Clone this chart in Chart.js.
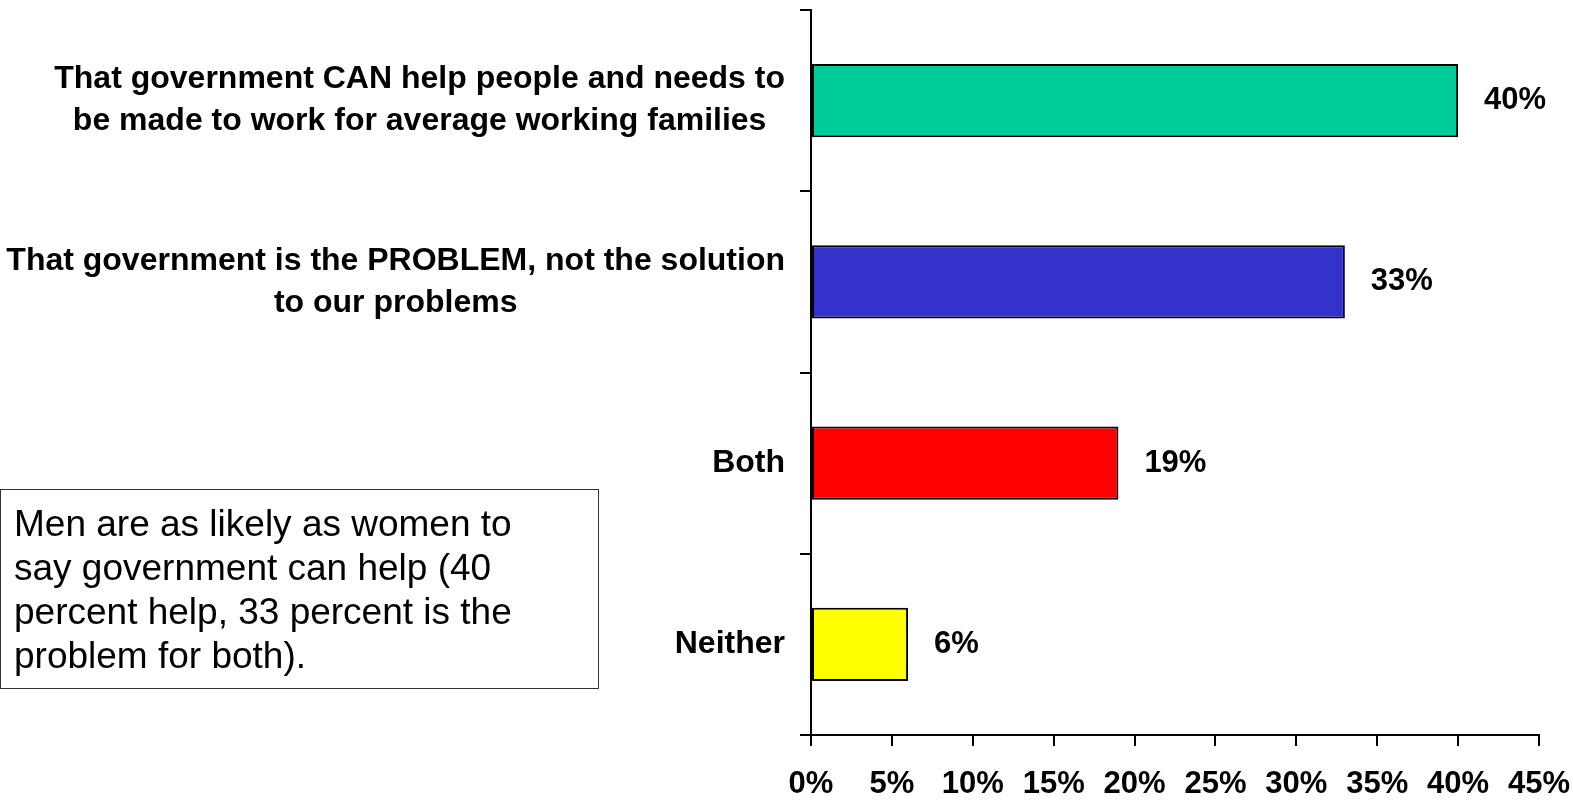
<!DOCTYPE html>
<html lang="en">
<head>
    <meta charset="UTF-8">
    <title>Government can help</title>
    <script src="https://cdn.jsdelivr.net/npm/chart.js"></script>
    <style>
        body { margin: 0; background: #fff; }
        #wrap { position: relative; width: 1573px; height: 801px; }
        #note {
            position: absolute; left: 0; top: 489px; width: 599px; height: 200px;
            border: 1.5px solid #333; box-sizing: border-box;
            padding: 12px 0 0 13px;
            font-family: "Liberation Sans", Arial, sans-serif; font-size: 37px; line-height: 44px; color: #000;
        }
    </style>
</head>
<body>
    <div id="wrap">
        <canvas id="myChart"></canvas>
        <div id="note">Men are as likely as women to<br>say government can help (40<br>percent help, 33 percent is the<br>problem for both).</div>
    </div>
    <script>
        const categories = [
            ["That government CAN help people and needs to", "be made to work for average working families"],
            ["That government is the PROBLEM, not the solution", "to our problems"],
            ["Both"],
            ["Neither"]
        ];
        const values = [40, 33, 19, 6];
        const barColors = ["#00CC99", "#3333CC", "#FF0000", "#FFFF00"];
        const xMin = 0, xMax = 45, xStep = 5;

        const FONT = '"Liberation Sans", Arial, sans-serif';

        // category labels: each block right-aligned, its lines centred within it
        const categoryLabels = {
            id: 'categoryLabels',
            afterDraw(chart) {
                const ctx = chart.ctx;
                const y = chart.scales.y;
                ctx.save();
                ctx.font = 'bold 32px ' + FONT;
                ctx.fillStyle = '#000';
                ctx.textAlign = 'center';
                ctx.textBaseline = 'middle';
                const right = y.right - 26;
                const lineH = 42;
                categories.forEach((lines, i) => {
                    const cy = y.getPixelForValue(i);
                    const w = Math.max(...lines.map(l => ctx.measureText(l).width));
                    lines.forEach((l, j) => {
                        ctx.fillText(l, right - w / 2, cy + (j - (lines.length - 1) / 2) * lineH);
                    });
                });
                ctx.restore();
            }
        };

        // percentage next to each bar
        const valueLabels = {
            id: 'valueLabels',
            afterDatasetsDraw(chart) {
                const ctx = chart.ctx;
                const meta = chart.getDatasetMeta(0);
                ctx.save();
                ctx.font = 'bold 31px ' + FONT;
                ctx.fillStyle = '#000';
                ctx.textAlign = 'left';
                ctx.textBaseline = 'middle';
                meta.data.forEach((bar, i) => {
                    ctx.fillText(values[i] + '%', bar.x + 26, bar.y);
                });
                ctx.restore();
            }
        };

        new Chart(document.getElementById('myChart'), {
            type: 'bar',
            data: {
                labels: categories,
                datasets: [{
                    data: values,
                    backgroundColor: barColors,
                    borderColor: '#000',
                    borderWidth: 2,
                    borderSkipped: false,
                    categoryPercentage: 1,
                    barPercentage: 0.405
                }]
            },
            options: {
                indexAxis: 'y',
                responsive: true,
                maintainAspectRatio: false,
                animation: false,
                layout: { padding: { top: 10, right: 34, left: 0, bottom: 0 } },
                plugins: { legend: { display: false }, tooltip: { enabled: false } },
                scales: {
                    x: {
                        min: xMin,
                        max: xMax,
                        ticks: {
                            stepSize: xStep,
                            callback: v => v + '%',
                            color: '#000',
                            font: { family: FONT, size: 31, weight: 'bold' },
                            padding: 20,
                            maxRotation: 0
                        },
                        grid: { drawOnChartArea: false, color: '#000', lineWidth: 2, tickLength: 11 },
                        border: { color: '#000', width: 2 },
                        afterFit: s => { s.height = 66; s.paddingRight = 0; s.paddingLeft = 0; }
                    },
                    y: {
                        ticks: { display: false },
                        grid: { drawOnChartArea: false, offset: true, color: '#000', lineWidth: 2, tickLength: 11 },
                        border: { color: '#000', width: 2 },
                        afterFit: s => { s.width = 811; }
                    }
                }
            },
            plugins: [categoryLabels, valueLabels]
        });
    </script>
</body>
</html>
